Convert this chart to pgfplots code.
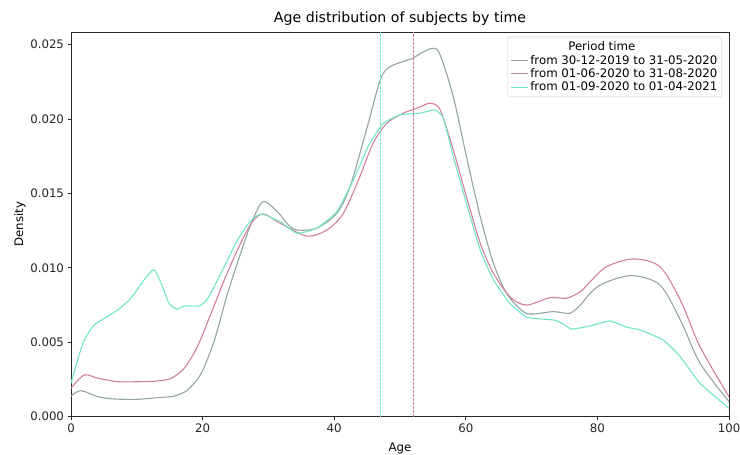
\documentclass[border=0pt]{standalone}
\usepackage{pgfplots}
\pgfplotsset{compat=1.18}
\usepackage{fontspec}
\setmainfont{DejaVu Sans}
\definecolor{cgray}{RGB}{149,165,166}
\definecolor{cred}{RGB}{210,128,152}
\definecolor{ccyan}{RGB}{112,230,200}
\definecolor{spine}{RGB}{40,40,40}
\begin{document}
\begin{tikzpicture}[x=1bp,y=1bp]
\useasboundingbox (0,0) rectangle (740,455);
\begin{axis}[
  at={(71bp,38.3bp)}, anchor=south west,
  width=658bp, height=384.7bp, scale only axis,
  xmin=0, xmax=100, ymin=0, ymax=0.02585,
  xtick={0,20,40,60,80,100},
  ytick={0,0.005,0.01,0.015,0.02,0.025},
  scaled y ticks=false,
  yticklabel style={/pgf/number format/fixed,/pgf/number format/precision=3,/pgf/number format/fixed zerofill},
  /pgf/number format/assume math mode=true,
  tick label style={font=\fontsize{11.8}{14}\selectfont, color=black!85},
  tick align=outside, major tick length=3.5bp,
  tick style={spine, line width=0.8bp},
  axis line style={spine, line width=0.8bp},
  xtick pos=bottom, ytick pos=left,
  title={Age distribution of subjects by time},
  title style={font=\fontsize{14.2}{16}\selectfont, yshift=-3bp},
  xlabel={Age}, ylabel={Density},
  label style={font=\fontsize{11.8}{14}\selectfont},
  xlabel style={yshift=-3bp},
  ylabel style={yshift=-2bp},
  legend cell align=left,
  legend style={at={(0.9894,0.987)}, anchor=north east, draw=black!20, rounded corners=2bp,
    font=\fontsize{11.8}{14}\selectfont, row sep=-1bp, inner sep=2.5bp},
  legend image post style={line width=1.1bp},
]
\addlegendimage{empty legend}
\addlegendentry{\hspace{38bp}Period time}
\addplot[cgray, line width=1.1bp, smooth, tension=0.5] coordinates {
(0,0.00139) (1.5,0.00175) (4.1,0.00134) (6.6,0.00119) (10.1,0.00117) (13.2,0.00128)
(15.7,0.00139) (17.7,0.00179) (19.8,0.00292) (21.8,0.00515) (23.8,0.00829) (25.8,0.0110)
(27.4,0.0130) (29.2,0.01445) (31.5,0.0137) (33,0.0129) (34.3,0.01255) (37.3,0.01266)
(40.4,0.01367) (42.4,0.01546) (44.9,0.01927) (47.0,0.02263) (48.5,0.02352) (52.0,0.02409)
(53.0,0.02438) (55.0,0.02476) (56.1,0.02431) (58.1,0.0215) (60.1,0.01747) (62.2,0.01344)
(64.2,0.01031) (66.2,0.00829) (68.7,0.00706) (70.3,0.0069) (73.3,0.00706) (75.8,0.00695)
(77.4,0.0075) (78.9,0.00829) (80.9,0.00896) (85.2,0.00948) (89.5,0.00885) (92.6,0.0065)
(95.6,0.00359) (100,0.00101)};
\addlegendentry{from 30-12-2019 to 31-05-2020}
\addplot[cred, line width=1.1bp, smooth, tension=0.5] coordinates {
(0,0.00191) (2.0,0.0028) (4.1,0.00258) (7.1,0.00235) (10.1,0.00235) (13.2,0.0024)
(15.2,0.00258) (17.2,0.00325) (19.2,0.0047) (21.3,0.00695) (23.3,0.00919) (25.3,0.0112)
(27.4,0.0130) (29.2,0.01362) (31.8,0.013) (35.8,0.01214) (38.9,0.01255) (41.4,0.01367)
(43.9,0.01613) (45.9,0.01837) (48.0,0.01972) (50.5,0.02039) (53.0,0.0208) (54.6,0.02106)
(56.1,0.02061) (58.1,0.01792) (60.1,0.01478) (62.2,0.01165) (64.2,0.00964) (66.7,0.00806)
(69.2,0.0075) (72.8,0.008) (75.3,0.00796) (77.4,0.0084) (78.9,0.00907) (81.4,0.01008)
(85.5,0.0106) (89.5,0.01008) (92.6,0.00784) (95.6,0.0047) (100,0.00134)};
\addlegendentry{from 01-06-2020 to 31-08-2020}
\addplot[ccyan, line width=1.1bp, smooth, tension=0.3] coordinates {
(0,0.00224) (1.0,0.00381) (2.0,0.00515) (3.5,0.00616) (5.1,0.00661) (7.1,0.00717)
(9.1,0.00796) (11.1,0.00919) (12.6,0.0099) (13.7,0.00896) (14.9,0.00762) (16.1,0.00722)
(17.2,0.00744) (19.5,0.00744) (20.8,0.00796) (22.8,0.00964) (25.3,0.01188) (27.4,0.01322)
(29.0,0.01362) (31.8,0.0131) (34.3,0.01233) (37.3,0.01266) (40.4,0.01378) (42.9,0.0159)
(45.4,0.01837) (47.5,0.01972) (50.0,0.02028) (53.0,0.02039) (55.3,0.02061) (56.6,0.02005)
(58.1,0.01747) (60.1,0.01434) (62.2,0.0112) (64.2,0.00919) (66.7,0.00762) (69.3,0.00668)
(73.3,0.0065) (74.5,0.0063) (76.1,0.00589) (78.9,0.0061) (81.9,0.00643) (84.5,0.00601)
(86.5,0.00583) (90.0,0.00515) (92.6,0.00403) (95.6,0.00224) (100,0.00056)};
\addlegendentry{from 01-09-2020 to 01-04-2021}
\addplot[cgray, line width=0.7bp, dash pattern=on 2.5bp off 1.5bp, forget plot] coordinates {(52.1,0) (52.1,0.02585)};
\addplot[cred, line width=0.7bp, dash pattern=on 2.5bp off 1.5bp, forget plot] coordinates {(52.1,0) (52.1,0.02585)};
\addplot[ccyan, line width=0.7bp, dash pattern=on 2.5bp off 1.5bp, forget plot] coordinates {(47.0,0) (47.0,0.02585)};
\end{axis}
\end{tikzpicture}
\end{document}
